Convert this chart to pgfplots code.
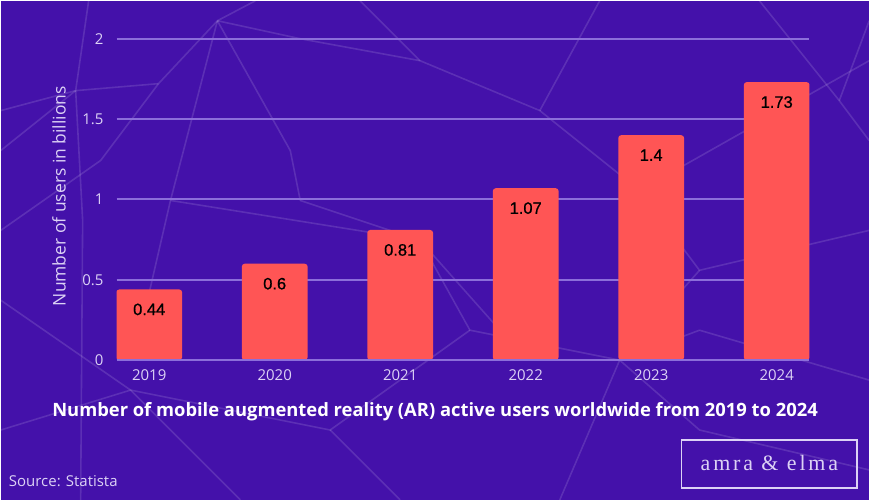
\documentclass[border=0pt]{standalone}
\usepackage{fontspec}
\setmainfont{Open Sans}
\newfontfamily\barfont[FakeBold=0.8]{Liberation Sans}
\newfontfamily\logofont[LetterSpace=13]{Liberation Serif}
\usepackage{pgfplots}
\pgfplotsset{compat=1.18}
\definecolor{bg}{RGB}{68,17,170}
\definecolor{barc}{RGB}{255,85,85}
\definecolor{gridc}{RGB}{140,110,218}
\definecolor{lbl}{RGB}{220,210,245}
\pgfplotstableread{
x val
0 0.44
1 0.6
2 0.81
3 1.07
4 1.4
5 1.73
}\datatable
\begin{document}
\begin{tikzpicture}[x=1pt,y=1pt]
\fill[bg] (0,0) rectangle (870,500);
% decorative background mesh (pixel coords, y down)
\begin{scope}[shift={(0,500)}, yscale=-1, draw=white, opacity=0.13, line width=1.6pt]
\draw (88,0)--(75,90)--(0,150);
\draw (75,90)--(158,83)--(217,20)--(300,38)--(420,60);
\draw (75,90)--(82,220)--(80,500);
\draw (217,20)--(170,200)--(140,330);
\draw (217,20)--(290,150)--(300,200);
\draw (75,90)--(0,110);
\draw (217,20)--(255,0);
\draw (0,230)--(100,160)--(158,83);
\draw (0,300)--(130,390)--(240,500);
\draw (170,200)--(420,240)--(500,330);
\draw (420,240)--(470,330)--(620,360)--(700,330);
\draw (300,200)--(420,240);
\draw (420,60)--(540,110)--(640,190)--(870,60);
\draw (540,110)--(600,0);
\draw (640,190)--(700,270)--(870,230);
\draw (700,270)--(620,360);
\draw (620,360)--(560,500);
\draw (0,430)--(130,390)--(330,430)--(470,330);
\draw (330,430)--(400,500);
\draw (700,330)--(870,380);
\draw (760,0)--(840,100)--(870,140);
\draw (840,100)--(870,20);
\draw (420,60)--(360,0);
\draw (620,360)--(700,430)--(870,470);
\end{scope}
\begin{axis}[
  at={(116pt,140pt)}, anchor=south west,
  scale only axis, width=694pt, height=322pt,
  xmin=-0.26, xmax=5.26, ymin=0, ymax=2,
  axis line style={draw=none},
  major tick length=0pt,
  ymajorgrids, major grid style={gridc, line width=2pt},
  ytick={0,0.5,1,1.5,2},
  yticklabels={0,0.5,1,1.5,2},
  xtick=data,
  xticklabels={2019,2020,2021,2022,2023,2024},
  /pgf/number format/assume math mode=true,
  yticklabel style={font=\fontsize{15}{15}\selectfont, text=lbl, inner sep=0pt, anchor=east, xshift=-13pt},
  xticklabel style={font=\fontsize{15}{15}\selectfont, text=lbl, inner sep=0pt, anchor=north, yshift=-9pt},
  ylabel={Number of users in billions},
  ylabel style={at={(axis description cs:-0.083,0.51)}, anchor=center, font=\fontsize{17.5}{17.5}\selectfont, text=lbl},
  ybar, bar width=66pt,
  nodes near coords,
  every node near coord/.append style={anchor=center, yshift=-20pt, font=\barfont\fontsize{16.5}{16.5}\selectfont, text=black},
]
\addplot[fill=barc, draw=none, rounded corners=3pt] table[x=x,y=val] {\datatable};
\draw[gridc, line width=2pt] (axis cs:-0.26,0) -- (axis cs:5.26,0);
\end{axis}
\node[text=white, font=\bfseries\fontsize{18.4}{18.4}\selectfont] at (435,88) {Number of mobile augmented reality (AR) active users worldwide from 2019 to 2024};
\node[text=lbl, font=\fontsize{15}{15}\selectfont, anchor=west, inner sep=0pt] at (8,19) {Source: Statista};
\draw[lbl, line width=1.5pt] (682,12) rectangle (858,60);
\node[text=lbl, font=\logofont\fontsize{22}{22}\selectfont, anchor=base, inner sep=0pt] at (770,29) {amra \& elma};
\end{tikzpicture}
\end{document}
